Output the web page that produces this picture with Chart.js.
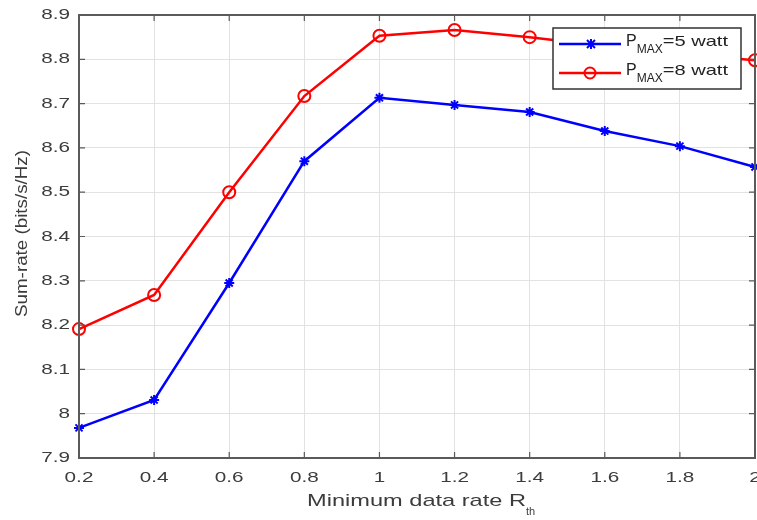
<!DOCTYPE html>
<html>
<head>
<meta charset="utf-8">
<script src="https://cdn.jsdelivr.net/npm/chart.js@4.4.0/dist/chart.umd.min.js"></script>
<style>
  html, body { margin: 0; padding: 0; background: #fff; }
  #wrap { width: 757px; height: 520px; }
</style>
</head>
<body>
<div id="wrap"><canvas id="c" width="757" height="520"></canvas></div>
<script>
// ─── DATA ─────────────────────────────────
const rateTh = [0.2, 0.4, 0.6, 0.8, 1.0, 1.2, 1.4, 1.6, 1.8, 2.0];
const sumRate5W = [7.968, 8.031, 8.295, 8.570, 8.713, 8.697, 8.681, 8.638, 8.604, 8.557];
const sumRate8W = [8.191, 8.268, 8.500, 8.717, 8.853, 8.866, 8.850, 8.830, 8.812, 8.798];
const yTickLabels = ['7.9', '8', '8.1', '8.2', '8.3', '8.4', '8.5', '8.6', '8.7', '8.8', '8.9'];
const xTickLabels = ['0.2', '0.4', '0.6', '0.8', '1', '1.2', '1.4', '1.6', '1.8', '2'];
const seriesNames = [['P', 'MAX', '=5 watt'], ['P', 'MAX', '=8 watt']];

const FONT = '"Liberation Sans", Arial, sans-serif';
const BLUE = '#0000ff', RED = '#ff0000';
const TXT = '#3c3c3c';
const STRETCH = 1.38; // the reference text is drawn wide

// draw text stretched to a given width
function fitText(ctx, str, x, y, w) {
  const m = ctx.measureText(str).width;
  ctx.save();
  ctx.translate(x, y);
  ctx.scale(w / m, 1);
  ctx.fillText(str, 0, 0);
  ctx.restore();
}

// draw text widened by STRETCH, anchored by align ('center' | 'right')
function wideText(ctx, str, x, y, align) {
  const w = ctx.measureText(str).width * STRETCH;
  const x0 = align === 'right' ? x - w : x - w / 2;
  fitText(ctx, str, x0, y, w);
}

// box, inward ticks, tick labels, axis titles, legend
const decor = {
  id: 'decor',
  afterDraw(chart) {
    const { ctx, chartArea: a, scales } = chart;
    ctx.save();
    ctx.strokeStyle = '#5a5a5a';
    ctx.lineWidth = 2;
    ctx.strokeRect(a.left, a.top, a.right - a.left, a.bottom - a.top);
    ctx.lineWidth = 1.2;
    ctx.beginPath();
    scales.x.ticks.forEach(t => {
      const px = scales.x.getPixelForValue(t.value);
      ctx.moveTo(px, a.bottom); ctx.lineTo(px, a.bottom - 6);
      ctx.moveTo(px, a.top); ctx.lineTo(px, a.top + 6);
    });
    scales.y.ticks.forEach(t => {
      const py = scales.y.getPixelForValue(t.value);
      ctx.moveTo(a.left, py); ctx.lineTo(a.left + 6, py);
      ctx.moveTo(a.right, py); ctx.lineTo(a.right - 6, py);
    });
    ctx.stroke();

    // tick labels
    ctx.fillStyle = TXT;
    ctx.textAlign = 'left';
    ctx.textBaseline = 'middle';
    ctx.font = '15px ' + FONT;
    scales.x.ticks.forEach((t, i) => {
      wideText(ctx, xTickLabels[i], scales.x.getPixelForValue(t.value), 478, 'center');
    });
    scales.y.ticks.forEach((t, i) => {
      wideText(ctx, yTickLabels[i], 70, scales.y.getPixelForValue(t.value), 'right');
    });

    // x title with subscript
    ctx.textBaseline = 'alphabetic';
    ctx.font = '17px ' + FONT;
    fitText(ctx, 'Minimum data rate R', 307, 506, 219);
    ctx.font = '11px ' + FONT;
    ctx.fillText('th', 526, 515);

    // y title
    ctx.save();
    ctx.translate(27, 317);
    ctx.rotate(-Math.PI / 2);
    ctx.font = '16px ' + FONT;
    fitText(ctx, 'Sum-rate (bits/s/Hz)', 0, 0, 167);
    ctx.restore();

    // legend
    const lx = 553, ly = 28, lw = 188, lh = 61;
    ctx.fillStyle = '#fff';
    ctx.fillRect(lx, ly, lw, lh);
    ctx.strokeStyle = '#333';
    ctx.lineWidth = 1.5;
    ctx.strokeRect(lx, ly, lw, lh);
    const rows = [ly + 16, ly + 45];
    const colors = [BLUE, RED];
    rows.forEach((yy, i) => {
      ctx.strokeStyle = colors[i];
      ctx.lineWidth = 2.5;
      ctx.beginPath(); ctx.moveTo(559, yy); ctx.lineTo(621, yy); ctx.stroke();
      if (i === 0) {
        ctx.lineWidth = 2;
        ctx.beginPath();
        ctx.moveTo(587, yy - 4); ctx.lineTo(595, yy + 4);
        ctx.moveTo(587, yy + 4); ctx.lineTo(595, yy - 4);
        ctx.moveTo(591, yy - 5); ctx.lineTo(591, yy + 5);
        ctx.stroke();
      } else {
        ctx.lineWidth = 2;
        ctx.beginPath(); ctx.arc(590, yy, 5.5, 0, Math.PI * 2); ctx.stroke();
      }
      const [p, sub, rest] = seriesNames[i];
      ctx.fillStyle = '#222';
      ctx.font = '16px ' + FONT;
      let tx = 626;
      ctx.fillText(p, tx, yy + 2);
      tx += ctx.measureText(p).width;
      ctx.font = '12px ' + FONT;
      ctx.fillText(sub, tx, yy + 9);
      tx += ctx.measureText(sub).width;
      ctx.font = '15px ' + FONT;
      fitText(ctx, rest, tx, yy + 2, 728 - tx);
    });
    ctx.restore();
  }
};

const toPts = ys => rateTh.map((x, i) => ({ x, y: ys[i] }));

new Chart(document.getElementById('c').getContext('2d'), {
  type: 'line',
  data: {
    datasets: [{
      data: toPts(sumRate5W),
      borderColor: BLUE,
      backgroundColor: BLUE,
      borderWidth: 2.5,
      pointStyle: 'star',
      pointRadius: 5,
      pointBorderWidth: 2,
      pointBorderColor: BLUE,
      tension: 0,
      clip: false,
    }, {
      data: toPts(sumRate8W),
      borderColor: RED,
      backgroundColor: 'rgba(0,0,0,0)',
      borderWidth: 2.5,
      pointStyle: 'circle',
      pointRadius: 6,
      pointBorderWidth: 2,
      pointBorderColor: RED,
      tension: 0,
      clip: false,
    }]
  },
  options: {
    responsive: false,
    animation: false,
    layout: { autoPadding: false, padding: { left: 0, top: 15, right: 2, bottom: 0 } },
    plugins: { legend: { display: false }, tooltip: { enabled: false } },
    scales: {
      x: {
        type: 'linear', min: 0.2, max: 2,
        afterFit: s => { s.height = 62; s.paddingLeft = 0; s.paddingRight = 0; },
        afterBuildTicks: s => { s.ticks = rateTh.map(v => ({ value: v })); },
        grid: { color: '#e2e2e2', lineWidth: 1, drawTicks: false },
        border: { display: false },
        ticks: { display: false }
      },
      y: {
        min: 7.9, max: 8.9,
        afterFit: s => { s.width = 79; s.paddingTop = 0; s.paddingBottom = 0; },
        afterBuildTicks: s => { s.ticks = yTickLabels.map(v => ({ value: Number(v) })); },
        grid: { color: '#e2e2e2', lineWidth: 1, drawTicks: false },
        border: { display: false },
        ticks: { display: false }
      }
    }
  },
  plugins: [decor]
});
</script>
</body>
</html>
